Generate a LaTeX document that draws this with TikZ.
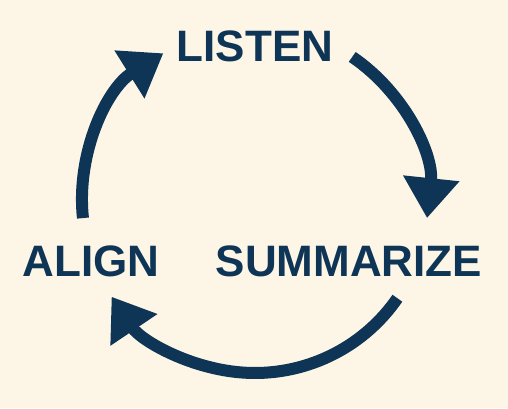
\documentclass[tikz,border=0pt]{standalone}
\usepackage{fontspec}
\setmainfont{Liberation Sans}
\usetikzlibrary{arrows.meta,calc}
\definecolor{navy}{HTML}{0E3555}
\definecolor{cream}{HTML}{FDF6E7}
\begin{document}
\begin{tikzpicture}[x=1pt,y=1pt,
  lbl/.style={text=navy,font=\fontsize{44}{44}\selectfont\bfseries,inner sep=0pt,anchor=base},
  arr/.style={draw=navy,line width=12pt,-{Triangle[length=40pt,width=54pt]}}]
\fill[cream] (0,0) rectangle (508,408);
\useasboundingbox (0,0) rectangle (508,408);
\coordinate (c) at (255,208);
\node[lbl] (listen) at (255,346) {LISTEN};
\node[lbl] (align) at (91,132) {ALIGN};
\node[lbl] (summ) at (349,132) {SUMMARIZE};
\draw[arr] ($(c)+(55.8:173)$) arc[start angle=55.8,end angle=-6,radius=173];
\draw[arr] ($(c)+(-34.6:173)$) arc[start angle=-34.6,end angle=-146,radius=173];
\draw[arr] ($(c)+(186:173)$) arc[start angle=186,end angle=122,radius=173];
\end{tikzpicture}
\end{document}
